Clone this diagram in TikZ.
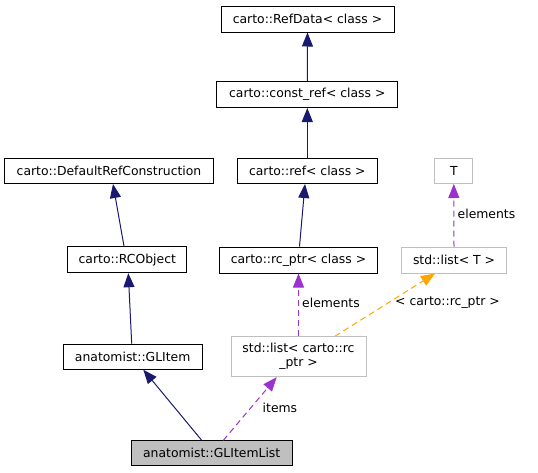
\documentclass[tikz,border=0pt]{standalone}
\usepackage{fontspec}
\setmainfont{DejaVu Sans}
\usetikzlibrary{arrows.meta,calc}
\definecolor{navy}{HTML}{191970}
\definecolor{purp}{HTML}{9A32CD}
\definecolor{orng}{HTML}{FFA500}
\definecolor{lgray}{HTML}{BFBFBF}
\tikzset{
  cls/.style={draw=black, line width=1pt, rectangle, inner sep=0pt, font=\fontsize{12.4}{14}\selectfont},
  ext/.style={draw=lgray, line width=1pt, rectangle, inner sep=0pt, font=\fontsize{12.4}{14}\selectfont, align=center},
  inh/.style={draw=navy, line width=1pt, -{Triangle[length=14pt,width=11pt,fill=navy]}},
  use/.style={draw=purp, line width=1pt, dash pattern=on 6pt off 4pt, -{Triangle[length=14pt,width=11pt,fill=purp]}},
  tpl/.style={draw=orng, line width=1pt, dash pattern=on 6pt off 4pt, -{Triangle[length=14pt,width=11pt,fill=orng]}},
  lbl/.style={font=\fontsize{12.4}{14}\selectfont, anchor=west, inner sep=0pt},
}
\begin{document}
\begin{tikzpicture}[x=1pt,y=-1pt]
\useasboundingbox (0,0) rectangle (538,472);
\node[cls, minimum width=173pt, minimum height=26pt] (refdata) at (307.5,19) {carto::RefData< class >};
\node[cls, minimum width=181pt, minimum height=26pt] (constref) at (307.3,94.5) {carto::const\_ref< class >};
\node[cls, minimum width=209pt, minimum height=25pt] (defref) at (109,171) {carto::DefaultRefConstruction};
\node[cls, minimum width=140pt, minimum height=25pt] (ref) at (307.3,171) {carto::ref< class >};
\node[ext, minimum width=38pt, minimum height=25pt] (T) at (453.8,171) {T};
\node[cls, minimum width=119pt, minimum height=26pt] (rcobj) at (127.3,259.7) {carto::RCObject};
\node[cls, minimum width=158pt, minimum height=26pt] (rcptr) at (298.5,260) {carto::rc\_ptr< class >};
\node[ext, minimum width=105pt, minimum height=26pt] (listT) at (454,260) {std::list< T >};
\node[cls, minimum width=139pt, minimum height=25pt] (glitem) at (132.7,356.7) {anatomist::GLItem};
\node[ext, minimum width=135pt, minimum height=40pt] (listrc) at (298.5,356.7) {std::list< carto::rc\\\_ptr >};
\node[cls, fill=lgray, minimum width=161pt, minimum height=25pt] (gllist) at (211.7,453.3) {anatomist::GLItemList};

\draw[inh] (constref.north) -- (refdata.south);
\draw[inh] (ref.north) -- (constref.south);
\draw[inh] ([xshift=-3.3pt]rcobj.north) -- ([xshift=4pt]defref.south);
\draw[inh] ([xshift=1pt]rcptr.north) -- ([xshift=-2.3pt]ref.south);
\draw[inh] ([xshift=-1pt]glitem.north) -- ([xshift=1pt]rcobj.south);
\draw[inh] ([xshift=-10pt]gllist.north) -- ([xshift=10.6pt]glitem.south);
\draw[use] ([xshift=11.6pt]gllist.north) -- ([xshift=-21.8pt]listrc.south);
\draw[use] (listrc.north) -- (rcptr.south);
\draw[use] (listT.north) -- (T.south);
\draw[tpl] ([xshift=36.5pt]listrc.north) -- ([xshift=-19pt]listT.south);

\node[lbl] (l1) at (457.5,214) {elements};
\node[lbl] (l2) at (302,303) {elements};
\node[lbl] (l3) at (395,303) {< carto::rc\_ptr >};
\node[lbl] (l4) at (262.5,407.7) {items};
\end{tikzpicture}
\end{document}
